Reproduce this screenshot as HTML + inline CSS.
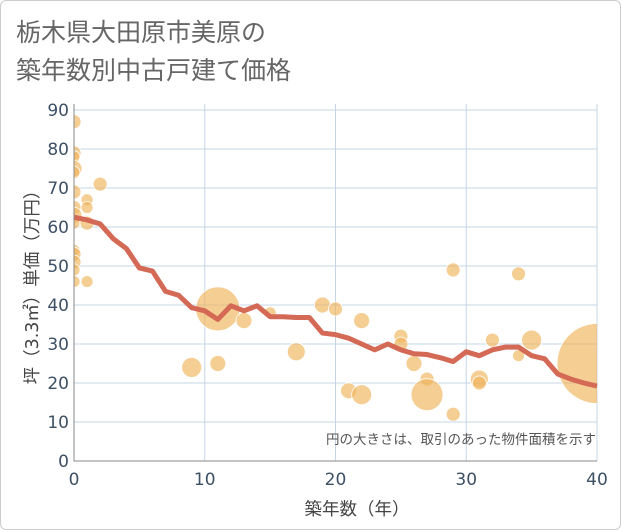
<!DOCTYPE html>
<html><head><meta charset="utf-8"><style>
body{margin:0;background:#fff;font-family:"Liberation Sans","Noto Sans CJK JP",sans-serif}
#wrap{position:relative;width:619px;height:528px;border:1px solid #ccc;border-radius:6px;overflow:hidden;background:#fff}
</style></head><body>
<div id="wrap">
<svg id="chart" width="621" height="530">
<defs><clipPath id="plotclip"><rect x="73" y="103" width="523" height="357"/></clipPath></defs>
<text x="15" y="40" font-size="25" fill="#666" font-family="DejaVu Sans,Noto Sans CJK JP,sans-serif">栃木県大田原市美原の</text>
<text x="15" y="78" font-size="25" fill="#666" font-family="DejaVu Sans,Noto Sans CJK JP,sans-serif">築年数別中古戸建て価格</text>
<g id="grid"></g><g id="bubbles" clip-path="url(#plotclip)"></g><g id="line"></g><g id="axes"></g>
<text x="595" y="443" font-size="13.5" fill="#555" text-anchor="end" font-family="DejaVu Sans,Noto Sans CJK JP,sans-serif">円の大きさは、取引のあった物件面積を示す</text>
<text x="356" y="514" font-size="17.5" fill="#444" text-anchor="middle" font-family="DejaVu Sans,Noto Sans CJK JP,sans-serif">築年数（年）</text>
<text transform="translate(37,282) rotate(-90)" font-size="17.5" fill="#444" text-anchor="middle" font-family="DejaVu Sans,Noto Sans CJK JP,sans-serif">坪（3.3㎡）単価（万円）</text>
</svg></div>
<script>
const xTicks=[0,10,20,30,40];
const yTicks=[0,10,20,30,40,50,60,70,80,90];
const lineX=[0,1,2,3,4,5,6,7,8,9,10,11,12,13,14,15,16,17,18,19,20,21,22,23,24,25,26,27,28,29,30,31,32,33,34,35,36,37,38,39,40];
const lineY=[62.5,61.8,60.8,57,54.5,49.5,48.7,43.5,42.5,39.3,38.5,36.3,39.8,38.5,39.8,37,37,36.8,36.8,32.8,32.4,31.5,30,28.5,30,28.5,27.5,27.3,26.5,25.5,28,27,28.5,29.2,29.2,27,26.2,22.3,21,20,19.2];
const bubX=[0,0,0,0,0,0,0,0,0,0,0,0,0,0,1,1,1,1,2,9,11,11,13,15,17,19,20,21,22,22,25,25,26,27,27,29,29,31,31,32,34,34,35,40];
const bubY=[87,79,78,75,74,69,65,63,61,54,53,51,49,46,67,65,61,46,71,24,39,25,36,38,28,40,39,18,36,17,32,30,25,21,17,49,12,21,20,31,48,27,31,25];
const bubR=[7,7,6,8,6,7,7,8,6,6,7,7,6,6,6,6,7,6,7,10,22,8,8,6,9,8,7,8,8,10,7,7,8,7,16,7,7,9,7,7,7,6,10,40];
const X=v=>73+v*(523/40), Y=v=>460-v*(351/90);
const NS="http://www.w3.org/2000/svg";
function mk(t,a,p){const e=document.createElementNS(NS,t);for(const k in a)e.setAttribute(k,a[k]);p.appendChild(e);return e;}
const grid=document.getElementById('grid'),axes=document.getElementById('axes');
for(const t of xTicks){const l=mk('line',{x1:X(t),x2:X(t),y1:103,y2:460,stroke:'#c6d5e5','stroke-width':1},grid);


const tx=mk('text',{x:X(t),y:484,'font-size':17,fill:'#3d5066','text-anchor':'middle','font-family':'DejaVu Sans,sans-serif'},axes);tx.textContent=t;

}
for(const t of yTicks){const l=mk('line',{x1:73,x2:596,y1:Y(t),y2:Y(t),stroke:'#c6d5e5','stroke-width':1},grid);


const tx=mk('text',{x:68,y:Y(t)+6,'font-size':17,fill:'#3d5066','text-anchor':'end','font-family':'DejaVu Sans,sans-serif'},axes);tx.textContent=t;

}
const fr=mk('path',{d:'M73,103V460H596',fill:'none',stroke:'#888','stroke-width':1},axes);


const bg=document.getElementById('bubbles');
bubX.forEach((x,i)=>{const c=mk('circle',{cx:X(x),cy:Y(bubY[i]),r:bubR[i],fill:'rgba(240,180,90,0.65)',stroke:'#fff','stroke-width':0.8},bg);

});
const p=mk('polyline',{points:lineX.map((x,i)=>X(x)+','+Y(lineY[i])).join(' '),fill:'none',stroke:'#d46a55','stroke-width':5,'stroke-linejoin':'round'},document.getElementById('line'));


</script>
</body></html>
